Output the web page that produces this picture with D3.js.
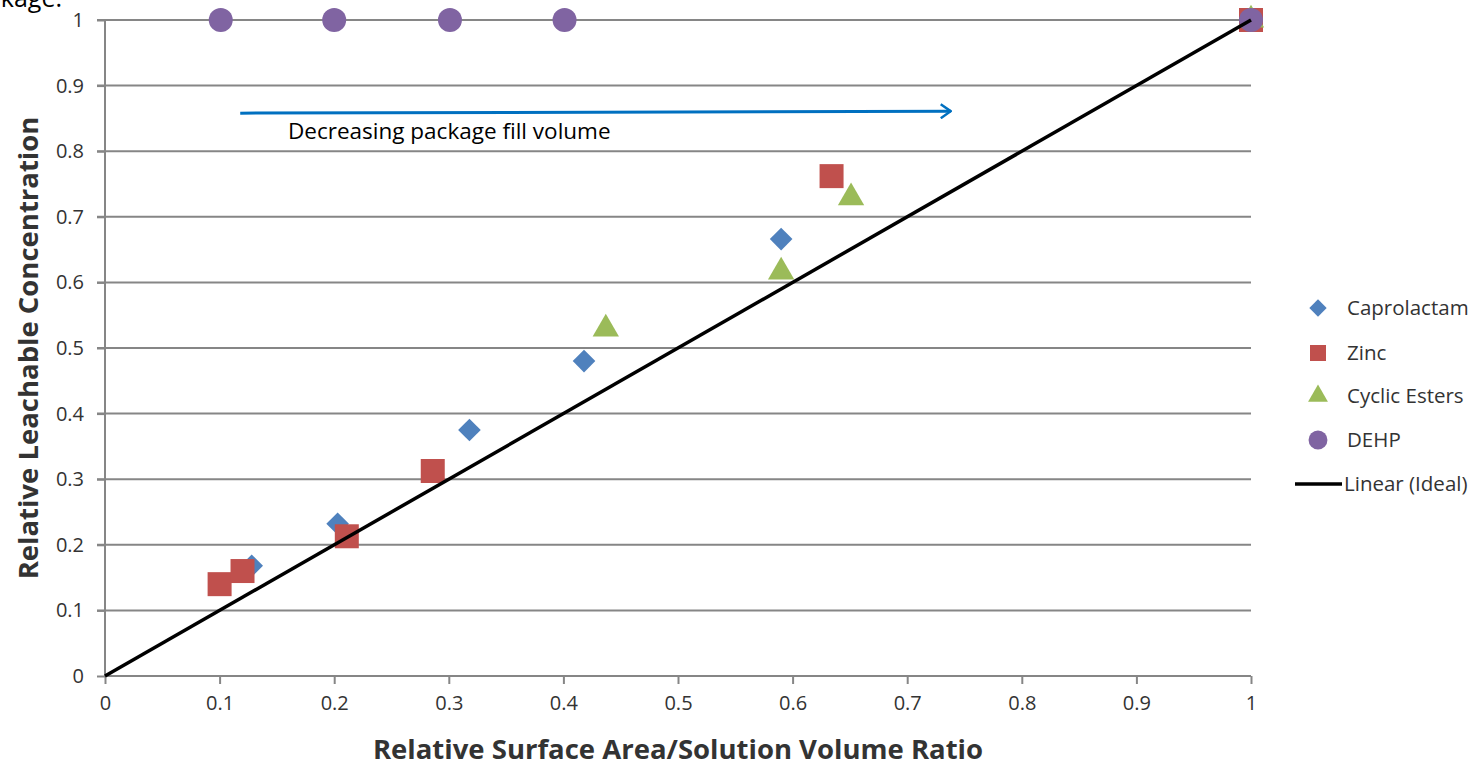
<!DOCTYPE html>
<html><head><meta charset="utf-8">
<script src="https://cdn.jsdelivr.net/npm/d3@7"></script>
<style>body{margin:0;background:#fff}svg{display:block}text{font-family:"Open Sans","Liberation Sans",sans-serif}</style>
</head><body>
<svg id="c" width="1477" height="767"></svg>
<script>
const xTicks = [0,0.1,0.2,0.3,0.4,0.5,0.6,0.7,0.8,0.9,1];
const yTicks = [0,0.1,0.2,0.3,0.4,0.5,0.6,0.7,0.8,0.9,1];
const caprolactamX = [0.128,0.203,0.318,0.418,0.590,1.0];
const caprolactamY = [0.168,0.232,0.375,0.480,0.666,1.0];
const zincX = [0.100,0.120,0.211,0.286,0.634,1.0];
const zincY = [0.140,0.160,0.213,0.3125,0.762,1.0];
const cyclicX = [0.437,0.590,0.651,1.0];
const cyclicY = [0.529,0.616,0.729,1.0];
const dehpX = [0.101,0.200,0.301,0.401,1.0];
const dehpY = [1.0,1.0,1.0,1.0,1.0];
const idealX = [0,1];
const idealY = [0,1];
const seriesNames = ["Caprolactam","Zinc","Cyclic Esters","DEHP","Linear (Ideal)"];
const seriesColors = ["#4F81BD","#C0504D","#9BBB59","#8064A2","#000000"];
const arrowX = [0.118,0.738];
const arrowY = [0.858,0.861];
const annotation = "Decreasing package fill volume";

const svg = d3.select("#c");
const x = d3.scaleLinear().domain([0,1]).range([105,1251]);
const y = d3.scaleLinear().domain([0,1]).range([676,20]);

// stray text at top (cut off in the original)
svg.append("text").attr("x",62).attr("y",7).attr("text-anchor","end").attr("font-size",25).attr("fill","#000").text("kage:");

// gridlines
const grid = svg.append("g");
grid.selectAll("line").data(yTicks.filter(d=>d>0)).join("line")
  .attr("x1",97).attr("x2",x(1)).attr("y1",d=>y(d)).attr("y2",d=>y(d))
  .attr("stroke","#868686").attr("stroke-width",2);

// axes
const yAxis = d3.axisLeft(y).tickValues(yTicks).tickSize(8).tickFormat(d3.format("~g"));
const gy = svg.append("g").attr("transform",`translate(${x(0)},0)`).call(yAxis);
const xAxis = d3.axisBottom(x).tickValues(xTicks).tickSize(8).tickFormat(d3.format("~g"));
const gx = svg.append("g").attr("transform",`translate(0,${y(0)})`).call(xAxis);
[gx,gy].forEach(g=>{
  g.select(".domain").attr("stroke","#868686").attr("stroke-width",2);
  g.selectAll(".tick line").attr("stroke","#868686").attr("stroke-width",2);
  g.selectAll(".tick text").attr("font-size",20).attr("fill","#333").attr("font-family","'Open Sans',sans-serif");
});
gy.selectAll(".tick text").attr("x",-21);
gx.selectAll(".tick text").attr("y",20);
gy.select(".domain").attr("d",`M0,${y(0)}V${y(1)}`);
gx.select(".domain").attr("d",`M${x(0)},0H${x(1)}`);

// titles
svg.append("text").attr("x",678).attr("y",759).attr("text-anchor","middle")
  .attr("font-size",27.5).attr("font-weight","bold").attr("fill","#333")
  .text("Relative Surface Area/Solution Volume Ratio");
svg.append("text").attr("transform","translate(38,348) rotate(-90)").attr("text-anchor","middle")
  .attr("font-size",27.5).attr("font-weight","bold").attr("fill","#333")
  .text("Relative Leachable Concentration");

// arrow annotation
svg.append("defs").append("marker").attr("id","ah").attr("viewBox","0 0 12 16")
  .attr("refX",11).attr("refY",8).attr("markerWidth",12).attr("markerHeight",16)
  .attr("markerUnits","userSpaceOnUse").attr("orient","auto")
  .append("path").attr("d","M1,1L11,8L1,15").attr("fill","none").attr("stroke","#0070C0").attr("stroke-width",2.5);
svg.append("line").attr("x1",x(arrowX[0])).attr("y1",y(arrowY[0])).attr("x2",x(arrowX[1])).attr("y2",y(arrowY[1]))
  .attr("stroke","#0070C0").attr("stroke-width",3).attr("marker-end","url(#ah)");
svg.append("text").attr("x",288).attr("y",139).attr("font-size",22.5).attr("fill","#000").text(annotation);

// symbols
const sym = {
  diamond: d3.symbol().type(d3.symbolSquare).size(256),
  square: d3.symbol().type(d3.symbolSquare).size(576),
  triangle: d3.symbol().type(d3.symbolTriangle).size(300),
  circle: d3.symbol().type(d3.symbolCircle).size(452)
};
function drawSeries(xs, ys, path, color, rot){
  svg.append("g").selectAll("path").data(xs.map((v,i)=>[v,ys[i]])).join("path")
    .attr("d",path).attr("fill",color)
    .attr("transform",d=>`translate(${x(d[0])},${y(d[1])})${rot?" rotate(45)":""}`);
}
drawSeries(caprolactamX,caprolactamY,sym.diamond(),seriesColors[0],true);
drawSeries(zincX,zincY,sym.square(),seriesColors[1],false);
drawSeries(cyclicX,cyclicY,sym.triangle(),seriesColors[2],false);
drawSeries(dehpX,dehpY,sym.circle(),seriesColors[3],false);

// ideal line
svg.append("path").datum(idealX.map((v,i)=>[v,idealY[i]]))
  .attr("d",d3.line().x(d=>x(d[0])).y(d=>y(d[1])))
  .attr("stroke","#000").attr("stroke-width",3.5).attr("fill","none");

// legend
const leg = svg.append("g");
const legY = [308,353,396,440,484];
const legSyms = [
  d3.symbol().type(d3.symbolSquare).size(150)(),
  d3.symbol().type(d3.symbolSquare).size(256)(),
  d3.symbol().type(d3.symbolTriangle).size(170)(),
  d3.symbol().type(d3.symbolCircle).size(280)()
];
seriesNames.forEach((n,i)=>{
  if(i<4){
    leg.append("path").attr("d",legSyms[i]).attr("fill",seriesColors[i])
      .attr("transform",`translate(1318,${legY[i]})${i===0?" rotate(45)":""}`);
  } else {
    leg.append("line").attr("x1",1295).attr("x2",1342).attr("y1",legY[i]).attr("y2",legY[i])
      .attr("stroke","#000").attr("stroke-width",3.5);
  }
  leg.append("text").attr("x",i<4?1347:1344).attr("y",legY[i]+7).attr("font-size",20.5).attr("fill","#333").text(n);
});
</script>
</body></html>
